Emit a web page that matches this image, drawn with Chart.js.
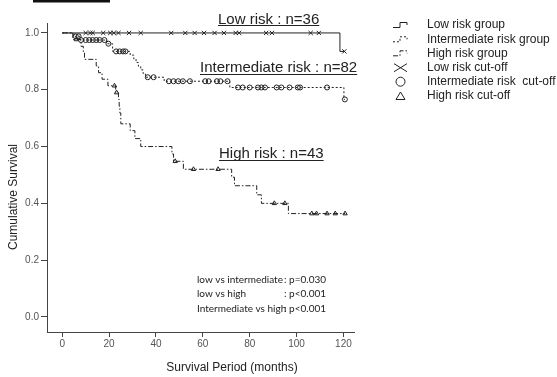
<!DOCTYPE html>
<html>
<head>
<meta charset="utf-8">
<script src="https://cdn.jsdelivr.net/npm/chart.js@4.4.1/dist/chart.umd.min.js"></script>
<style>
  html, body { margin: 0; padding: 0; background: #fff; }
  #wrap { width: 557px; height: 377px; }
</style>
</head>
<body>
<div id="wrap"><canvas id="canvas" width="557" height="377"></canvas></div>
<script>
var X_TICKS = [0, 20, 40, 60, 80, 100, 120];
var Y_TICKS = [0, 0.2, 0.4, 0.6, 0.8, 1.0];

// Kaplan-Meier steps: event time and survival after that event
var LOW_T = [0, 118.5, 120.4];
var LOW_S = [1, 0.935, 0.935];
var LOW_CENSOR = [10, 12, 13, 17.5, 20.5, 22, 24, 28.5, 33.5, 46.5, 52.5, 56.5, 60.5, 65,
                  69, 74, 75.5, 87, 89.5, 106, 109.5, 120.4];

var INT_T = [0, 5, 7.5, 19, 21.5, 29, 30.5, 31.5, 32.5, 33.5, 34.5, 35.5, 43.5, 71.5, 120.2, 120.6];
var INT_S = [1, 0.988, 0.975, 0.962, 0.935, 0.922, 0.909, 0.896, 0.883, 0.87, 0.857, 0.844,
             0.83, 0.808, 0.766, 0.766];
var INT_CENSOR = [5.8, 7, 8, 10, 11.5, 13, 14.5, 16, 18, 19.7, 23, 24.5, 26, 27, 36.5, 39,
                  45.5, 47.5, 49.5, 51.5, 54.5, 61, 62.5, 66, 67.5, 70.5,
                  75, 77, 80, 83.5, 85, 86.5, 91.5, 93.5, 97, 100.5, 101.5, 113, 120.6];

var HIGH_T = [0, 4.5, 8, 9, 9.5, 14.5, 15.5, 17, 19.5, 22.8, 24, 24.3, 24.6, 25, 29, 31, 33.5,
              46.8, 47.5, 51.7, 72.3, 73.5, 83, 85, 96.5, 120.7];
var HIGH_S = [1, 0.977, 0.953, 0.93, 0.907, 0.884, 0.86, 0.837, 0.814, 0.79, 0.766, 0.742,
              0.718, 0.68, 0.656, 0.628, 0.6, 0.574, 0.548, 0.52, 0.492, 0.462, 0.43, 0.4,
              0.364, 0.364];
var HIGH_CENSOR = [6, 22.3, 23.2, 48.2, 56, 66.5, 90.5, 95, 106.5, 108.5, 113, 116.5, 120.7];

var GROUP_LABELS = ["Low risk group", "Intermediate risk group", "High risk group"];
var CUTOFF_LABELS = ["Low risk cut-off", "Intermediate risk  cut-off", "High risk cut-off"];
var N_LABELS = ["Low risk : n=36", "Intermediate risk : n=82", "High risk : n=43"];
var P_NAMES = ["low vs intermediate", "low vs high", "Intermediate vs high"];
var P_VALUES = [": p=0.030", ": p<0.001", ": p<0.001"];

var INK = '#222';

function survAt(ts, ss, t) {
	var s = ss[0];
	for (var i = 0; i < ts.length; i++) {
		if (ts[i] <= t) s = ss[i];
	}
	return s;
}
function steps(ts, ss) {
	return ts.map(function(t, i) { return { x: t, y: ss[i] }; });
}
function marks(ts, ss, cs) {
	return cs.map(function(t) { return { x: t, y: survAt(ts, ss, t) }; });
}

function curve(label, ts, ss, dash) {
	return {
		label: label, data: steps(ts, ss), stepped: 'before',
		borderColor: INK, borderWidth: 1, borderDash: dash,
		pointRadius: 0, fill: false
	};
}
function censor(label, ts, ss, cs, style, r) {
	return {
		label: label, data: marks(ts, ss, cs), showLine: false,
		pointStyle: style, pointRadius: r, pointBorderWidth: 1,
		pointBorderColor: INK, pointBackgroundColor: 'rgba(0,0,0,0)'
	};
}

var FONT = '"Liberation Sans", Arial, sans-serif';
Chart.defaults.font.family = FONT;

var extras = {
	id: 'extras',
	afterDraw: function(chart) {
		var ctx = chart.ctx;
		ctx.save();
		// remains of the figure heading, cut at the top
		ctx.fillStyle = '#111';
		ctx.fillRect(33, 0, 77, 2.5);

		// group size notes, underlined
		ctx.fillStyle = INK;
		ctx.strokeStyle = INK;
		ctx.lineWidth = 1;
		ctx.font = '15px ' + FONT;
		ctx.textAlign = 'left';
		ctx.textBaseline = 'alphabetic';
		var pos = [[218, 23.5, 25.5], [200, 72, 74.5], [219, 158, 160.5]];
		N_LABELS.forEach(function(txt, i) {
			var p = pos[i];
			ctx.fillText(txt, p[0], p[1]);
			var w = ctx.measureText(txt).width;
			ctx.beginPath();
			ctx.moveTo(p[0], p[2]);
			ctx.lineTo(p[0] + w, p[2]);
			ctx.stroke();
		});

		// legend
		var rows = [25, 39.3, 53.3, 67.7, 81.7, 96];
		var dashes = [[], [2, 2], [5, 2, 1.5, 2]];
		ctx.font = '12px ' + FONT;
		ctx.textBaseline = 'middle';
		GROUP_LABELS.concat(CUTOFF_LABELS).forEach(function(txt, i) {
			ctx.fillText(txt, 427, rows[i]);
		});
		for (var i = 0; i < 3; i++) {
			var y = rows[i];
			ctx.setLineDash(dashes[i]);
			ctx.beginPath();
			ctx.moveTo(393, y + 2.5);
			ctx.lineTo(400, y + 2.5);
			ctx.lineTo(400, y - 2.5);
			ctx.lineTo(407, y - 2.5);
			ctx.lineTo(407, y);
			ctx.stroke();
		}
		ctx.setLineDash([]);
		ctx.beginPath();
		ctx.moveTo(394, rows[3] - 4); ctx.lineTo(407, rows[3] + 4);
		ctx.moveTo(394, rows[3] + 4); ctx.lineTo(407, rows[3] - 4);
		ctx.stroke();
		ctx.beginPath();
		ctx.arc(400.5, rows[4], 4.5, 0, Math.PI * 2);
		ctx.stroke();
		ctx.beginPath();
		ctx.moveTo(400.5, rows[5] - 4);
		ctx.lineTo(405, rows[5] + 3.5);
		ctx.lineTo(396, rows[5] + 3.5);
		ctx.closePath();
		ctx.stroke();

		// log-rank results
		ctx.font = '10px Lato, "Open Sans", sans-serif';
		var py = [280, 294, 308.5];
		P_NAMES.forEach(function(txt, i) {
			ctx.fillText(txt, 197, py[i]);
			ctx.fillText(P_VALUES[i], 284, py[i]);
		});

		// axis titles
		ctx.font = '12px ' + FONT;
		ctx.textAlign = 'center';
		ctx.fillText('Survival Period (months)', 232, 368);
		ctx.translate(14, 197);
		ctx.rotate(-Math.PI / 2);
		ctx.fillText('Cumulative Survival', 0, 0);
		ctx.restore();
	}
};

var ctx = document.getElementById('canvas').getContext('2d');
window.kmChart = new Chart(ctx, {
	type: 'line',
	data: {
		datasets: [
			curve('Low risk group', LOW_T, LOW_S, []),
			curve('Intermediate risk group', INT_T, INT_S, [2, 2]),
			curve('High risk group', HIGH_T, HIGH_S, [5, 2, 1.5, 2]),
			censor('Low risk cut-off', LOW_T, LOW_S, LOW_CENSOR, 'crossRot', 3),
			censor('Intermediate risk cut-off', INT_T, INT_S, INT_CENSOR, 'circle', 2.5),
			censor('High risk cut-off', HIGH_T, HIGH_S, HIGH_CENSOR, 'triangle', 2.5)
		]
	},
	options: {
		responsive: false,
		animation: false,
		layout: { padding: { left: 0, top: 23, right: 203, bottom: 0 } },
		plugins: {
			legend: { display: false },
			tooltip: { enabled: false }
		},
		scales: {
			x: {
				type: 'linear', min: -6.5, max: 124.5,
				afterBuildTicks: function(s) { s.ticks = X_TICKS.map(function(v) { return { value: v }; }); },
				afterFit: function(s) { s.height = 45; },
				grid: { drawOnChartArea: false, tickLength: 5, color: '#444' },
				border: { color: '#444' },
				ticks: { font: { size: 10 }, color: '#555', padding: 1, maxRotation: 0,
					callback: function(v) { return v; } }
			},
			y: {
				type: 'linear', min: -0.053, max: 1.035,
				afterBuildTicks: function(s) { s.ticks = Y_TICKS.map(function(v) { return { value: v }; }); },
				afterFit: function(s) { s.width = 47; },
				grid: { drawOnChartArea: false, tickLength: 6, color: '#444' },
				border: { color: '#444' },
				ticks: { font: { size: 10 }, color: '#555', padding: 2,
					callback: function(v) { return v.toFixed(1); } }
			}
		}
	},
	plugins: [extras]
});
</script>
</body>
</html>
